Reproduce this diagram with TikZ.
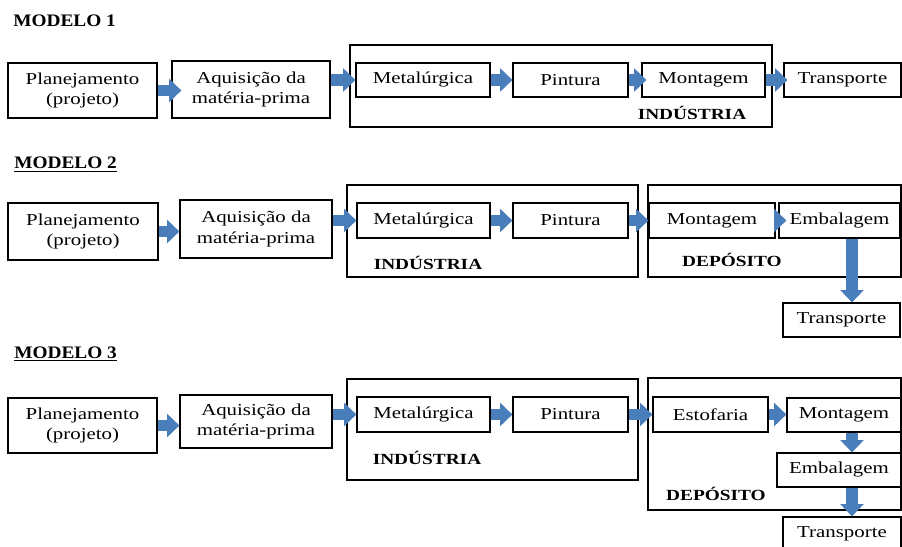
\documentclass[tikz,border=0pt]{standalone}
\usepackage{fontspec}
\setmainfont[FakeStretch=1.25]{Liberation Serif}
\newfontfamily\headfont[FakeStretch=1.1]{Liberation Serif}
\usepackage{xcolor}
\usepackage{tikz}
\usetikzlibrary{arrows.meta}
\definecolor{arrowblue}{RGB}{74, 126, 187}

\begin{document}
\begin{tikzpicture}[
    x=0.02cm, y=-0.02cm,
    font=\fontsize{9.5}{11.5}\selectfont,
    box/.style={rectangle, draw, line width=0.7pt, inner sep=0pt, minimum height=0.68cm, align=center},
    frame/.style={draw, line width=1.6pt},
    group/.style={inner sep=0pt, font=\fontsize{8.8}{11}\selectfont\bfseries},
    heading/.style={inner sep=0pt, anchor=base west, font=\headfont\fontsize{10}{12}\selectfont\bfseries},
    arrow/.style={draw=arrowblue, line width=6.5pt, -{Triangle[length=7pt, width=13pt]}}
]
    \useasboundingbox (0,0) rectangle (902,547);

    \node[heading] (title1) at (13,27) {MODELO 1};
    \node[box, minimum width=2.98cm, minimum height=1.1cm] (plan1) at (82.5,90.5) {Planejamento\\(projeto)};
    \node[box, minimum width=3.16cm, minimum height=1.14cm] (aq1) at (251,89.5) {Aquisição da\\matéria-prima};
    \draw[frame] (350,45) rectangle (772,127);
    \node[box, minimum width=2.68cm] (met1) at (423,80) {Metalúrgica};
    \node[box, minimum width=2.3cm] (pin1) at (570.5,80) {Pintura};
    \node[box, minimum width=2.46cm] (mon1) at (703.5,80) {Montagem};
    \node[box, minimum width=2.34cm] (tra1) at (842.5,80) {Transporte};
    \node[group] (ind1) at (692,113) {INDÚSTRIA};

    \draw[arrow, shorten >=-0.2cm] (plan1.east) -- (plan1.east -| aq1.west);
    \draw[arrow] (aq1.east |- met1.west) -- (met1.west);
    \draw[arrow] (met1) -- (pin1);
    \draw[arrow, shorten >=-0.1cm] (pin1) -- (mon1);
    \draw[arrow, shorten >=-0.08cm] (mon1) -- (tra1);

    \node[heading] (title2) at (14,169) {\underline{MODELO 2}};
    \node[box, minimum width=3cm, minimum height=1.14cm] (plan2) at (83,231.5) {Planejamento\\(projeto)};
    \node[box, minimum width=3.04cm, minimum height=1.16cm] (aq2) at (256,229) {Aquisição da\\matéria-prima};
    \draw[frame] (347,185) rectangle (638,277);
    \node[box, minimum width=2.66cm, minimum height=0.7cm] (met2) at (423.5,220.5) {Metalúrgica};
    \node[box, minimum width=2.3cm, minimum height=0.7cm] (pin2) at (570.5,220.5) {Pintura};
    \node[group] (ind2) at (428,263) {INDÚSTRIA};
    \draw[frame] (648,185) rectangle (901,277);
    \node[box, minimum width=2.52cm, minimum height=0.7cm] (mon2) at (712,220.5) {Montagem};
    \node[box, minimum width=2.42cm, minimum height=0.7cm] (emb2) at (839.5,220.5) {Embalagem};
    \node[group] (dep2) at (732,260) {DEPÓSITO};
    \node[box, minimum width=2.34cm] (tra2) at (841.5,320) {Transporte};

    \draw[arrow] (plan2.east) -- (plan2.east -| aq2.west);
    \draw[arrow] (aq2.east |- met2.west) -- (met2.west);
    \draw[arrow] (met2) -- (pin2);
    \draw[arrow] (pin2) -- (mon2);
    \draw[arrow, shorten >=-0.16cm] (mon2) -- (emb2);
    \draw[arrow] ([xshift=0.25cm]emb2.south) coordinate (down2) -- (down2 |- tra2.north);

    \node[heading] (title3) at (14,358) {\underline{MODELO 3}};
    \node[box, minimum width=2.98cm, minimum height=1.1cm] (plan3) at (82.5,425.5) {Planejamento\\(projeto)};
    \node[box, minimum width=3.04cm, minimum height=1.06cm] (aq3) at (256,421.5) {Aquisição da\\matéria-prima};
    \draw[frame] (347,379) rectangle (638,480);
    \node[box, minimum width=2.66cm, minimum height=0.7cm] (met3) at (423.5,414.5) {Metalúrgica};
    \node[box, minimum width=2.3cm, minimum height=0.7cm] (pin3) at (570.5,414.5) {Pintura};
    \node[group] (ind3) at (427,458) {INDÚSTRIA};
    \draw[frame] (648,378) rectangle (901,510);
    \node[box, minimum width=2.3cm, minimum height=0.7cm] (est3) at (710.5,414.5) {Estofaria};
    \node[box, minimum width=2.28cm] (mon3) at (844,415) {Montagem};
    \node[box, minimum width=2.48cm] (emb3) at (839,470) {Embalagem};
    \node[group] (dep3) at (716,494) {DEPÓSITO};
    \node[box, minimum width=2.36cm] (tra3) at (842,534) {Transporte};

    \draw[arrow] (plan3.east) -- (plan3.east -| aq3.west);
    \draw[arrow] (aq3.east |- met3.west) -- (met3.west);
    \draw[arrow] (met3) -- (pin3);
    \draw[arrow] (pin3) -- (est3);
    \draw[arrow] (est3) -- (est3 -| mon3.west);
    \draw[arrow] ([xshift=0.16cm]mon3.south) coordinate (down3) -- (down3 |- emb3.north);
    \draw[arrow] (down3 |- emb3.south) -- (down3 |- tra3.north);
\end{tikzpicture}
\end{document}
